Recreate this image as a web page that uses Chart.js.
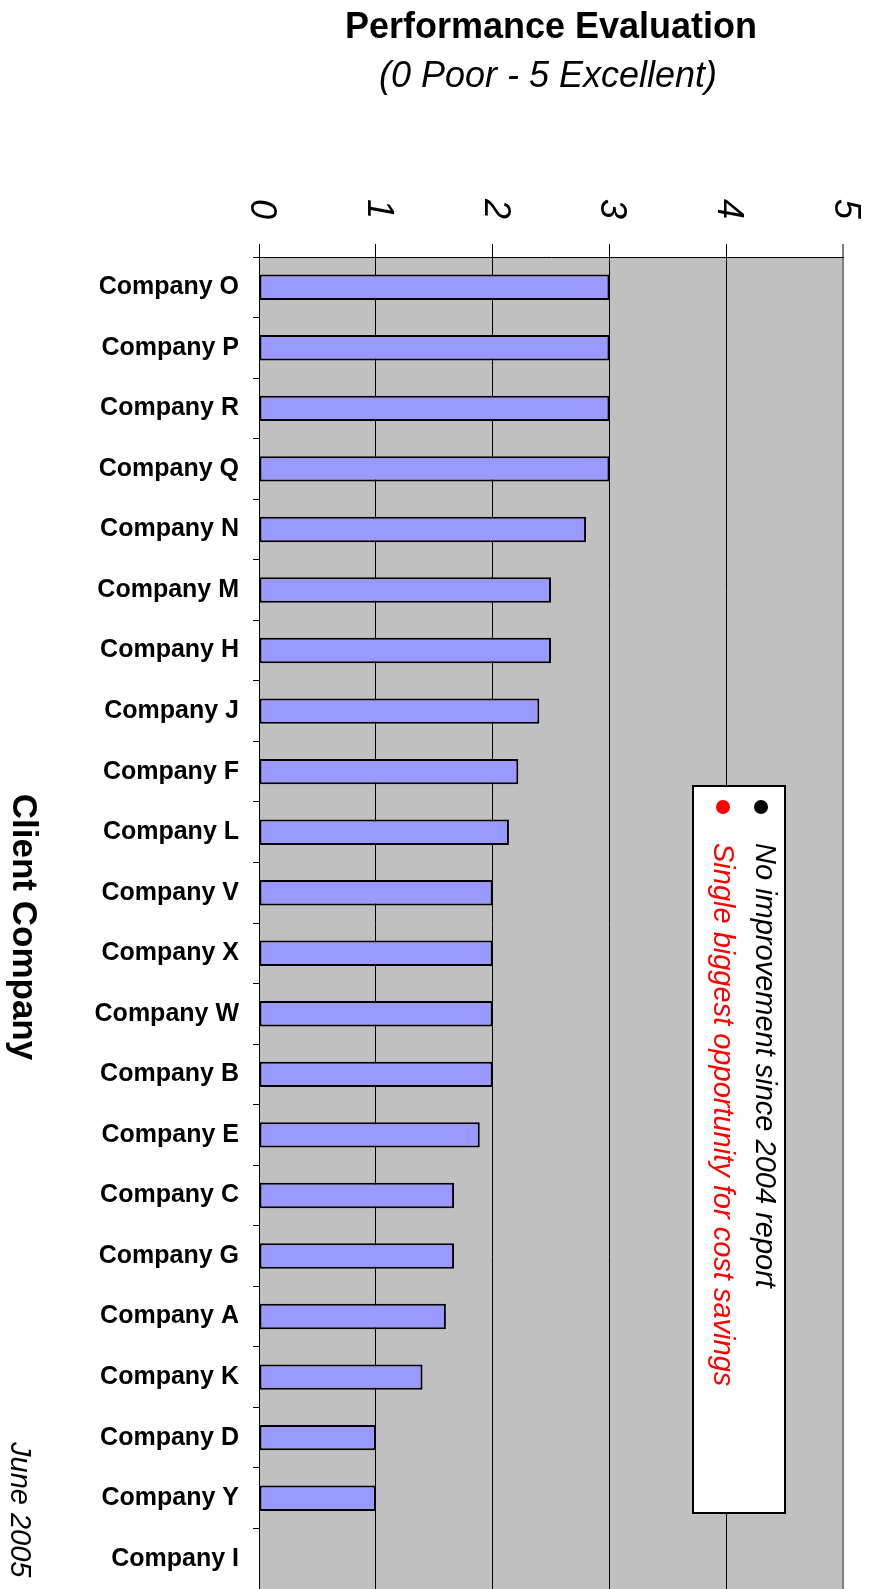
<!DOCTYPE html>
<html>
<head>
<meta charset="utf-8">
<script src="https://cdn.jsdelivr.net/npm/chart.js@4/dist/chart.umd.min.js"></script>
<style>
  html, body { margin: 0; padding: 0; background: #ffffff; overflow: hidden; }
  #wrap { position: relative; width: 869px; height: 1589px; }
</style>
</head>
<body>
<div id="wrap"><canvas id="chart" width="869" height="1589"></canvas></div>
<script>
// Companies, top to bottom
const categories = [
  'Company O', 'Company P', 'Company R', 'Company Q', 'Company N', 'Company M',
  'Company H', 'Company J', 'Company F', 'Company L', 'Company V', 'Company X',
  'Company W', 'Company B', 'Company E', 'Company C', 'Company G', 'Company A',
  'Company K', 'Company D', 'Company Y', 'Company I'
];
// Performance score per company (0 poor - 5 excellent)
const scores = [
  3.0, 3.0, 3.0, 3.0, 2.8, 2.5,
  2.5, 2.4, 2.22, 2.14, 2.0, 2.0,
  2.0, 2.0, 1.89, 1.67, 1.67, 1.6,
  1.4, 1.0, 1.0, 0
];
const scaleTicks = [0, 1, 2, 3, 4, 5];
const legendLabels = ['No improvement since 2004 report', 'Single biggest opportunity for cost savings'];
const legendColors = ['#000000', '#FF0000'];
const titleText = 'Performance Evaluation';
const subtitleText = '(0 Poor - 5 Excellent)';
const axisTitle = 'Client Company';
const dateNote = 'June 2005';

const FONT = '"Liberation Sans", Arial, Helvetica, sans-serif';

// Gray plot background
const plotBackground = {
  id: 'plotBackground',
  beforeDraw(chart) {
    const { ctx, chartArea: a } = chart;
    ctx.save();
    ctx.fillStyle = '#C0C0C0';
    ctx.fillRect(a.left, a.top, a.right - a.left, a.bottom - a.top);
    ctx.restore();
  }
};

// Titles, rotated scale labels, side notes and the key box
const annotations = {
  id: 'annotations',
  afterDraw(chart) {
    const { ctx, chartArea: a } = chart;
    const xs = chart.scales.x;
    ctx.save();

    // Titles
    ctx.fillStyle = '#000';
    ctx.textAlign = 'center';
    ctx.textBaseline = 'alphabetic';
    ctx.font = 'bold 36px ' + FONT;
    ctx.fillText(titleText, (a.left + a.right) / 2, 38);
    ctx.font = 'italic 36px ' + FONT;
    ctx.fillText(subtitleText, (a.left + a.right) / 2 - 3, 87);

    // Score labels along the top, turned a quarter clockwise
    ctx.font = 'italic 36px ' + FONT;
    ctx.textAlign = 'center';
    ctx.textBaseline = 'middle';
    scaleTicks.forEach(v => {
      const px = xs.getPixelForValue(v);
      ctx.save();
      ctx.translate(px + 2, 209);
      ctx.rotate(Math.PI / 2);
      ctx.fillText(String(v), 0, 0);
      ctx.restore();
    });

    // Category axis title
    ctx.font = 'bold 35px ' + FONT;
    ctx.textAlign = 'center';
    ctx.textBaseline = 'alphabetic';
    ctx.save();
    ctx.translate(13, 927);
    ctx.rotate(Math.PI / 2);
    ctx.fillText(axisTitle, 0, 0);
    ctx.restore();

    // Date note
    ctx.font = 'italic 29px ' + FONT;
    ctx.textAlign = 'left';
    ctx.save();
    ctx.translate(11, 1442);
    ctx.rotate(Math.PI / 2);
    ctx.fillText(dateNote, 0, 0);
    ctx.restore();

    // Key box
    const bx = 693, by = 786, bw = 92, bh = 727;
    ctx.fillStyle = '#FFFFFF';
    ctx.fillRect(bx, by, bw, bh);
    ctx.lineWidth = 2;
    ctx.strokeStyle = '#000';
    ctx.strokeRect(bx, by, bw, bh);

    const baseX = [756, 714];
    const dotX = [761, 723];
    ctx.font = 'italic 29px ' + FONT;
    legendLabels.forEach((label, i) => {
      ctx.fillStyle = legendColors[i];
      ctx.beginPath();
      ctx.arc(dotX[i], 807, 7, 0, Math.PI * 2);
      ctx.fill();
      ctx.save();
      ctx.translate(baseX[i], 843);
      ctx.rotate(Math.PI / 2);
      ctx.textAlign = 'left';
      ctx.textBaseline = 'alphabetic';
      ctx.fillText(label, 0, 0);
      ctx.restore();
    });

    ctx.restore();
  }
};

new Chart(document.getElementById('chart'), {
  type: 'bar',
  data: {
    labels: categories,
    datasets: [{
      data: scores,
      backgroundColor: '#9999FF',
      borderColor: '#000000',
      borderWidth: 2,
      borderSkipped: false,
      barPercentage: 0.42,
      categoryPercentage: 1.0
    }]
  },
  options: {
    indexAxis: 'y',
    responsive: false,
    animation: false,
    devicePixelRatio: 1,
    layout: { padding: { left: 0, top: 0, right: 26, bottom: 0 } },
    plugins: {
      legend: { display: false },
      tooltip: { enabled: false },
      title: { display: false }
    },
    scales: {
      x: {
        position: 'top',
        min: 0,
        max: 5,
        ticks: { stepSize: 1, display: false },
        grid: {
          color: c => (c.tick && c.tick.value === 5) ? '#808080' : '#000000',
          lineWidth: c => (c.tick && c.tick.value === 5) ? 2 : 1,
          tickLength: 13,
          drawTicks: true
        },
        border: { color: '#000000', width: 1 },
        afterFit(scale) {
          scale.height = 257;
          scale.paddingLeft = 0;
          scale.paddingRight = 0;
        }
      },
      y: {
        ticks: {
          color: '#000000',
          font: { family: FONT, size: 25, weight: 'bold' },
          padding: 14
        },
        grid: {
          drawOnChartArea: false,
          tickLength: 6,
          color: '#000000',
          offset: true
        },
        border: { color: '#000000', width: 1 },
        afterFit(scale) {
          scale.width = 259;
          scale.paddingTop = 0;
          scale.paddingBottom = 0;
        }
      }
    }
  },
  plugins: [plotBackground, annotations]
});
</script>
</body>
</html>
